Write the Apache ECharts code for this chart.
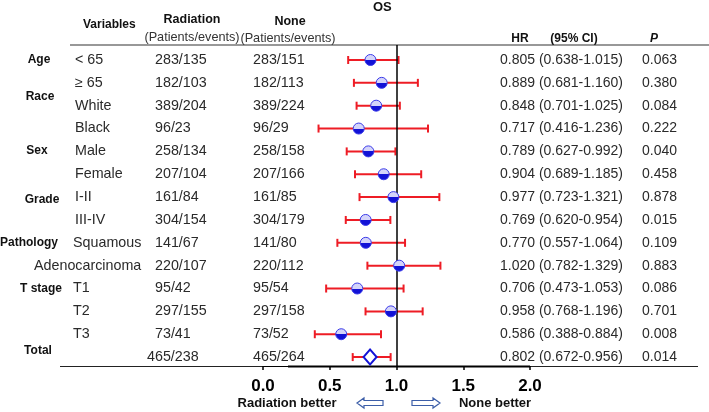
<!DOCTYPE html>
<html><head><meta charset="utf-8">
<script src="https://cdn.jsdelivr.net/npm/echarts@6/dist/echarts.min.js"></script>
<style>html,body{margin:0;padding:0;background:#fff}#c{width:709px;height:412px}</style>
</head><body><div id="c"></div>
<script>
const groups = ['Age','Race','Sex','Grade','Pathology','T stage','Total'];
const groupRows = [0, 1.6, 3.98, 6.13, 8.0, 10.0, 12.7];
const subgroups = ['< 65','\u2265 65','White','Black','Male','Female','I-II','III-IV','Squamous','Adenocarcinoma','T1','T2','T3',''];
const radiation = ['283/135','182/103','389/204','96/23','258/134','207/104','161/84','304/154','141/67','220/107','95/42','297/155','73/41','465/238'];
const none = ['283/151','182/113','389/224','96/29','258/158','207/166','161/85','304/179','141/80','220/112','95/54','297/158','73/52','465/264'];
const hr = [0.805,0.889,0.848,0.717,0.789,0.904,0.977,0.769,0.770,1.020,0.706,0.958,0.586,0.802];
const lo = [0.638,0.681,0.701,0.416,0.627,0.689,0.723,0.620,0.557,0.782,0.473,0.768,0.388,0.672];
const hi = [1.015,1.160,1.025,1.236,0.992,1.185,1.321,0.954,1.064,1.329,1.053,1.196,0.884,0.956];
const pvals = ['0.063','0.380','0.084','0.222','0.040','0.458','0.878','0.015','0.109','0.883','0.086','0.701','0.008','0.014'];
const xTicks = [0, 0.5, 1.0, 1.5, 2.0];

const FONT = '"Liberation Sans", Arial, sans-serif';
const TXT = '#2a2a2a';
const RED = '#ee1c25';
const BLUE = '#1212d6';
const n = hr.length;
const totalIdx = n - 1;

const chart = echarts.init(document.getElementById('c'));

const barData = hr.map((v, i) => [lo[i], hi[i], i]);
const pointData = hr.slice(0, totalIdx).map((v, i) => [v, i]);
const totalData = [[hr[totalIdx], totalIdx]];
const tableData = hr.map((v, i) => [0, i]);
const groupData = groups.map((g, k) => [0, groupRows[k]]);

const circleFill = {
  type: 'linear', x: 0, y: 0, x2: 0, y2: 1,
  colorStops: [
    {offset: 0, color: '#d4d4fa'}, {offset: 0.5, color: '#d4d4fa'},
    {offset: 0.5, color: BLUE}, {offset: 1, color: BLUE}
  ]
};

function txt(x, y, s, style) {
  return {type: 'text', x: x, y: y, silent: true,
    style: Object.assign({text: s, fill: TXT, font: '14.3px ' + FONT, textVerticalAlign: 'middle'}, style || {})};
}

chart.setOption({
  animation: false,
  grid: {left: 263, right: 179, top: 45, bottom: 46},
  xAxis: {
    type: 'value', min: 0, max: 2, interval: 0.5,
    axisLine: {show: true, onZero: false, lineStyle: {color: '#000', width: 1}},
    axisTick: {show: true, length: 4, lineStyle: {color: '#000', width: 1.5}},
    axisLabel: {color: '#000', fontWeight: 'bold', fontSize: 17, fontFamily: FONT, margin: 12,
      formatter: v => xTicks.indexOf(v) >= 0 ? v.toFixed(1) : ''},
    splitLine: {show: false}
  },
  yAxis: {type: 'value', inverse: true, min: -0.656, max: 13.39, show: false},
  series: [
    {
      type: 'custom', name: 'table', clip: false, silent: true, z: 1,
      data: tableData,
      renderItem: function (params, api) {
        const i = api.value(1);
        const y = api.coord([1, i])[1];
        const sg = subgroups[i];
        let sx = 75;
        if (sg === 'Adenocarcinoma') sx = 34;
        else if (sg === 'Squamous' || /^T\d/.test(sg)) sx = 73;
        const children = [];
        if (sg) children.push(txt(sx, y, sg));
        children.push(txt(i === totalIdx ? 147 : 155, y, radiation[i]));
        children.push(txt(253, y, none[i]));
        children.push(txt(500, y, hr[i].toFixed(3) + ' (' + lo[i].toFixed(3) + '-' + hi[i].toFixed(3) + ')', {font: '14px ' + FONT}));
        children.push(txt(642, y, pvals[i], {font: '14px ' + FONT}));
        return {type: 'group', children: children};
      }
    },
    {
      type: 'custom', name: 'groups', clip: false, silent: true,
      data: groupData,
      renderItem: function (params, api) {
        const k = params.dataIndex;
        const y = api.coord([1, api.value(1)])[1];
        const cx = [39, 40, 37, 42, 29, 41, 38][k];
        return txt(cx, y, groups[k], {font: 'bold 12px ' + FONT, fill: '#111', textAlign: 'center'});
      }
    },
    {
      type: 'custom', name: 'CI', clip: false, z: 3,
      data: barData,
      renderItem: function (params, api) {
        const a = api.coord([api.value(0), api.value(2)]);
        const b = api.coord([api.value(1), api.value(2)]);
        const h = 4;
        const st = {stroke: RED, lineWidth: 2};
        return {type: 'group', children: [
          {type: 'line', shape: {x1: a[0], y1: a[1], x2: b[0], y2: b[1]}, style: st},
          {type: 'line', shape: {x1: a[0], y1: a[1] - h, x2: a[0], y2: a[1] + h}, style: st},
          {type: 'line', shape: {x1: b[0], y1: b[1] - h, x2: b[0], y2: b[1] + h}, style: st}
        ]};
      }
    },
    {
      type: 'scatter', name: 'HR', z: 5, symbol: 'circle', symbolSize: 11,
      data: pointData,
      itemStyle: {color: circleFill, borderColor: '#3a3ae8', borderWidth: 1, opacity: 1}
    },
    {
      type: 'scatter', name: 'Total', z: 5, symbol: 'diamond', symbolSize: [13, 15],
      data: totalData,
      itemStyle: {color: '#fff', borderColor: BLUE, borderWidth: 2, opacity: 1}
    },
    {
      type: 'line', name: 'ref', data: [], z: 2,
      markLine: {silent: true, symbol: 'none', label: {show: false},
        lineStyle: {color: '#000', width: 1.5, type: 'solid'},
        data: [{xAxis: 1}]}
    }
  ],
  graphic: [
    {type: 'text', left: 373, top: 1, style: {text: 'OS', font: 'bold 13px ' + FONT, fill: '#111'}},
    {type: 'text', x: 83, y: 25, style: {text: 'Variables', font: 'bold 12px ' + FONT, fill: '#111', textVerticalAlign: 'middle'}},
    {type: 'text', x: 192, y: 20, style: {text: 'Radiation', font: 'bold 12.5px ' + FONT, fill: '#111', textAlign: 'center', textVerticalAlign: 'middle'}},
    {type: 'text', x: 192, y: 37, style: {text: '(Patients/events)', font: '12.7px ' + FONT, fill: '#333', textAlign: 'center', textVerticalAlign: 'middle'}},
    {type: 'text', x: 290, y: 22, style: {text: 'None', font: 'bold 12.5px ' + FONT, fill: '#111', textAlign: 'center', textVerticalAlign: 'middle'}},
    {type: 'text', x: 288, y: 38, style: {text: '(Patients/events)', font: '12.7px ' + FONT, fill: '#333', textAlign: 'center', textVerticalAlign: 'middle'}},
    {type: 'text', x: 520, y: 39, style: {text: 'HR', font: 'bold 12px ' + FONT, fill: '#111', textAlign: 'center', textVerticalAlign: 'middle'}},
    {type: 'text', x: 574, y: 39, style: {text: '(95% CI)', font: 'bold 12px ' + FONT, fill: '#111', textAlign: 'center', textVerticalAlign: 'middle'}},
    {type: 'text', x: 654, y: 39, style: {text: 'P', font: 'italic bold 12px ' + FONT, fill: '#111', textAlign: 'center', textVerticalAlign: 'middle'}},
    {type: 'line', shape: {x1: 70, y1: 45, x2: 709, y2: 45}, style: {stroke: '#333', lineWidth: 1.2}},
    {type: 'line', shape: {x1: 60, y1: 366.5, x2: 698, y2: 366.5}, style: {stroke: '#222', lineWidth: 1.2}},
    {type: 'line', shape: {x1: 288, y1: 366.5, x2: 530, y2: 366.5}, style: {stroke: '#000', lineWidth: 2.2}},
    {type: 'text', x: 287, y: 403, style: {text: 'Radiation better', font: 'bold 13px ' + FONT, fill: '#111', textAlign: 'center', textVerticalAlign: 'middle'}},
    {type: 'text', x: 495, y: 403, style: {text: 'None better', font: 'bold 13px ' + FONT, fill: '#111', textAlign: 'center', textVerticalAlign: 'middle'}},
    {type: 'polygon', shape: {points: [[357,403],[364,398],[364,400.5],[383,400.5],[383,405.5],[364,405.5],[364,408]]},
      style: {fill: '#fff', stroke: '#3c5ea8', lineWidth: 1.2}},
    {type: 'polygon', shape: {points: [[440,403],[433,398],[433,400.5],[412,400.5],[412,405.5],[433,405.5],[433,408]]},
      style: {fill: '#fff', stroke: '#3c5ea8', lineWidth: 1.2}}
  ]
});
</script></body></html>
